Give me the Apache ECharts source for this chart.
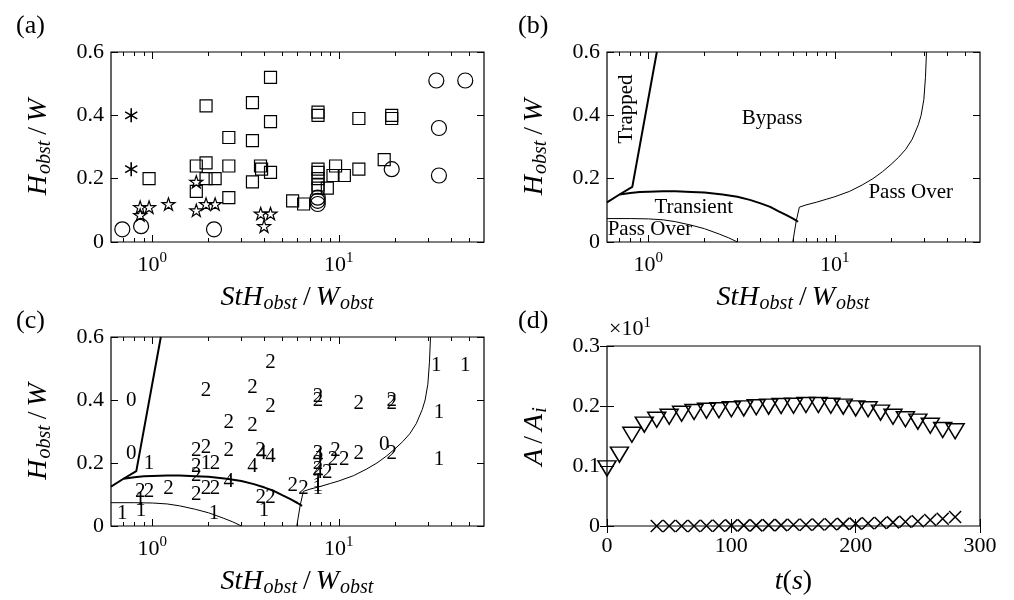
<!DOCTYPE html>
<html lang="en">
<head>
<meta charset="UTF-8" />
<title>obstacle regimes</title>
<script src="https://cdn.jsdelivr.net/npm/echarts@6/dist/echarts.min.js"></script>
<style>
  * { margin: 0; padding: 0; }
  html, body { background: #fff; }
</style>
</head>
<body>
<div id="charts" style="width: 1014px; height: 600px"></div>
<script>
// (a) experiments: x = St*H_obst/W_obst, y = H_obst/W, code = regime number shown in (c)
var circleX = [0.69, 0.87, 2.14, 7.7, 7.7, 7.7, 19.2, 33.3, 47.6, 34.4, 34.4];
var circleY = [0.04, 0.05, 0.04, 0.14, 0.13, 0.12, 0.23, 0.51, 0.51, 0.36, 0.21];
var circleCode = [1, 1, 1, 1, 1, 1, 2, 1, 1, 1, 1];

var squareX = [0.96, 1.94, 1.72, 1.94, 1.94, 2.17, 1.72, 2.57, 2.57, 2.57, 3.44, 3.44, 3.44, 3.8, 3.85,
  4.3, 4.3, 4.3, 5.65, 6.47, 7.73, 7.73, 7.73, 7.73, 7.73, 7.73, 7.73, 8.67, 9.6, 9.3, 10.7, 12.8, 12.8,
  17.5, 19.2, 19.2];
var squareY = [0.20, 0.43, 0.24, 0.25, 0.20, 0.20, 0.16, 0.33, 0.24, 0.14, 0.44, 0.32, 0.19, 0.24, 0.23,
  0.52, 0.38, 0.22, 0.13, 0.12, 0.41, 0.40, 0.23, 0.22, 0.20, 0.18, 0.17, 0.17, 0.24, 0.21, 0.21, 0.39, 0.23,
  0.26, 0.40, 0.39];
var squareCode = [1, 2, 2, 2, 1, 2, 2, 2, 2, 4, 2, 2, 4, 2, 4,
  2, 2, 4, 2, 2, 2, 2, 3, 4, 2, 2, 4, 2, 2, 2, 2, 2, 2,
  0, 2, 2];

var starX = [0.86, 0.86, 0.96, 1.22, 1.72, 1.72, 1.94, 2.17, 3.81, 4.3, 3.97];
var starY = [0.11, 0.085, 0.11, 0.12, 0.19, 0.10, 0.12, 0.12, 0.09, 0.09, 0.05];
var starCode = [2, 1, 2, 2, 2, 2, 2, 2, 2, 2, 1];

var asterX = [0.77, 0.77];
var asterY = [0.40, 0.23];
var asterCode = [0, 0];

// (b)/(c) regime boundaries
var trappedX = [0.6, 0.70, 0.82, 1.11];
var trappedY = [0.125, 0.150, 0.174, 0.6];
var transientX = [0.70, 0.80, 0.90, 1.0, 1.2, 1.4, 1.7, 2.0, 2.5, 3.0, 3.5, 4.0, 4.5, 5.0, 5.5, 6.0, 6.35];
var transientY = [0.150, 0.155, 0.158, 0.159, 0.160, 0.160, 0.158, 0.156, 0.150, 0.143, 0.133, 0.122, 0.111, 0.097, 0.085, 0.073, 0.064];
var lowPassX = [0.6, 0.8, 1.0, 1.2, 1.4, 1.7, 2.0, 2.4, 2.7, 3.0];
var lowPassY = [0.074, 0.074, 0.073, 0.070, 0.064, 0.053, 0.042, 0.025, 0.013, 0.0];
var rightPassX = [5.95, 6.2, 6.45, 7, 8, 9, 10, 12, 14, 16, 18, 20, 22, 24, 26, 28, 29, 30, 30.6, 31];
var rightPassY = [0.0, 0.065, 0.11, 0.117, 0.126, 0.135, 0.143, 0.16, 0.18, 0.20, 0.222, 0.245, 0.268, 0.293, 0.325, 0.37, 0.40, 0.45, 0.52, 0.6];

var regionText = ['Trapped', 'Bypass', 'Transient', 'Pass Over', 'Pass Over'];
var regionX = [0.76, 4.6, 1.75, 25.5, 1.02];
var regionY = [0.42, 0.39, 0.108, 0.157, 0.04];
var regionRot = [90, 0, 0, 0, 0];

// (d) area ratio vs time
var triT = [0, 10, 20, 30, 40, 50, 60, 70, 80, 90, 100, 110, 120, 130, 140, 150, 160, 170, 180, 190, 200,
  210, 220, 230, 240, 250, 260, 270, 280];
var triA = [0.096, 0.119, 0.152, 0.169, 0.177, 0.182, 0.187, 0.190, 0.192, 0.193, 0.1945, 0.196, 0.198, 0.199,
  0.200, 0.2005, 0.2016, 0.2016, 0.2005, 0.199, 0.196, 0.1945, 0.189, 0.182, 0.178, 0.174, 0.167, 0.160, 0.158];
var crossT = [40, 50, 60, 70, 80, 90, 100, 110, 120, 130, 140, 150, 160, 170, 180, 190, 200, 210, 220, 230,
  240, 250, 260, 270, 280];
var crossA = [0, 0, 0, 0, 0.0005, 0.0005, 0.001, 0.001, 0.001, 0.0015, 0.0015, 0.002, 0.002, 0.0025, 0.003,
  0.0035, 0.004, 0.0045, 0.005, 0.006, 0.007, 0.008, 0.010, 0.012, 0.015];

var xMajor = [1, 10];
var xMinor = [0.7, 0.8, 0.9, 2, 3, 4, 5, 6, 7, 8, 9, 20, 30, 40, 50];

var FONT = "Liberation Serif";
var nameRich = {
  i: { fontFamily: FONT, fontStyle: "italic", fontSize: 28, lineHeight: 32, color: "#000" },
  n: { fontFamily: FONT, fontSize: 28, lineHeight: 32, color: "#000", padding: [0, 5, 0, 5] },
  p: { fontFamily: FONT, fontSize: 28, lineHeight: 32, color: "#000" },
  sub: { fontFamily: FONT, fontStyle: "italic", fontSize: 20, lineHeight: 15, verticalAlign: "bottom", color: "#000", padding: [0, 1, 0, 1] },
};
var tickRich = {
  b: { fontFamily: FONT, fontSize: 22, lineHeight: 28, color: "#000" },
  s: { fontFamily: FONT, fontSize: 15, lineHeight: 15, verticalAlign: "top", color: "#000" },
};
var xNameSt = "{i|StH}{sub|obst}{n|/}{i|W}{sub|obst}";
var yNameHW = "{i|H}{sub|obst}{n|/}{i|W}";
var yNameA = "{i|A}{n|/}{i|A}{sub|i}";
var xNameT = "{i|t}{p|(}{i|s}{p|)}";

function pairs(xs, ys) {
  return xs.map(function (x, i) { return [x, ys[i]]; });
}

function logX(gi) {
  var major = { inside: true, length: 7, customValues: xMajor, lineStyle: { color: "#000" } };
  var minor = { inside: true, length: 4, customValues: xMinor, lineStyle: { color: "#000" } };
  var list = [];
  [["bottom", major], ["bottom", minor], ["top", major], ["top", minor]].forEach(function (p, k) {
    list.push({
      type: "log", logBase: 10, gridIndex: gi, min: 0.6, max: 60, position: p[0],
      axisLine: { show: false }, splitLine: { show: false }, axisTick: p[1],
      axisLabel: k === 0 ? {
        customValues: xMajor, margin: 9,
        formatter: function (v) { return "{b|10}{s|" + Math.round(Math.log10(v)) + "}"; },
        rich: tickRich,
      } : { show: false },
      name: k === 0 ? xNameSt : "", nameLocation: "middle", nameGap: 40,
      nameTextStyle: { rich: nameRich },
    });
  });
  return list;
}

function linX(gi) {
  var tick = { inside: true, length: 7, lineStyle: { color: "#000" } };
  return [
    { type: "value", gridIndex: gi, min: 0, max: 300, interval: 100, position: "bottom",
      axisLine: { show: false }, splitLine: { show: false }, axisTick: tick,
      axisLabel: { margin: 9, fontFamily: FONT, fontSize: 22, color: "#000" },
      name: xNameT, nameLocation: "middle", nameGap: 40, nameTextStyle: { rich: nameRich } },
    { type: "value", gridIndex: gi, min: 0, max: 300, interval: 100, position: "top",
      axisLine: { show: false }, splitLine: { show: false }, axisTick: tick, axisLabel: { show: false } },
  ];
}

function linY(gi, max, interval, name) {
  var tick = { inside: true, length: 7, lineStyle: { color: "#000" } };
  return [
    {
      type: "value", gridIndex: gi, min: 0, max: max, interval: interval, position: "left",
      axisLine: { show: false }, splitLine: { show: false }, axisTick: tick,
      axisLabel: {
        margin: 7, fontFamily: FONT, fontSize: 22, color: "#000",
        formatter: function (v) { return v === 0 ? "0" : v.toFixed(1); },
      },
      name: name, nameLocation: "middle", nameGap: 56, nameTextStyle: { rich: nameRich },
    },
    {
      type: "value", gridIndex: gi, min: 0, max: max, interval: interval, position: "right",
      axisLine: { show: false }, splitLine: { show: false }, axisTick: tick, axisLabel: { show: false },
    },
  ];
}

var starPath = "path://M0,-1L0.2245,-0.309L0.951,-0.309L0.363,0.118L0.588,0.809L0,0.382L-0.588,0.809L-0.363,0.118L-0.951,-0.309L-0.2245,-0.309Z";
var asterPath = "path://M0,-1L0,1M-0.866,-0.5L0.866,0.5M-0.866,0.5L0.866,-0.5";
var crossPath = "path://M-1,-1L1,1M-1,1L1,-1";

function hollow(w) {
  return { color: "rgba(0,0,0,0)", borderColor: "#000", borderWidth: w, opacity: 1 };
}

function scatter(xi, yi, data, symbol, size, extra) {
  return Object.assign({
    type: "scatter", xAxisIndex: xi, yAxisIndex: yi, data: data, symbol: symbol,
    symbolSize: size, symbolKeepAspect: true, itemStyle: hollow(1.2), silent: true,
  }, extra || {});
}

function line(xi, yi, xs, ys, w) {
  return {
    type: "line", xAxisIndex: xi, yAxisIndex: yi, data: pairs(xs, ys), symbol: "none",
    lineStyle: { color: "#000", width: w }, silent: true, z: 1,
  };
}

function boundaries(xi, yi) {
  return [
    line(xi, yi, trappedX, trappedY, 2),
    line(xi, yi, transientX, transientY, 2),
    line(xi, yi, lowPassX, lowPassY, 1),
    line(xi, yi, rightPassX, rightPassY, 1),
  ];
}

// all points with their regime code, for (c)
var codeData = [];
[[circleX, circleY, circleCode], [squareX, squareY, squareCode], [starX, starY, starCode], [asterX, asterY, asterCode]]
  .forEach(function (g) {
    g[0].forEach(function (x, i) { codeData.push([x, g[1][i], g[2][i]]); });
  });

var regionData = regionText.map(function (t, i) {
  return { name: t, value: [regionX[i], regionY[i]], label: { rotate: regionRot[i] } };
});

var myEcharts = echarts.init(document.getElementById("charts"));
var options = {
  animation: false,
  backgroundColor: "#fff",
  title: [
    { text: "(a)", left: 11, top: 8 },
    { text: "(b)", left: 513, top: 8 },
    { text: "(c)", left: 11, top: 303 },
    { text: "(d)", left: 513, top: 303 },
  ].map(function (t) {
    t.textStyle = { fontFamily: FONT, fontSize: 26, fontWeight: "normal", color: "#000" };
    return t;
  }),
  grid: [
    { left: 111, top: 52, width: 373, height: 190 },
    { left: 607, top: 52, width: 373, height: 190 },
    { left: 111, top: 337, width: 373, height: 189 },
    { left: 607, top: 346, width: 373, height: 180 },
  ].map(function (g) {
    g.show = true; g.borderColor = "#000"; g.borderWidth = 1.2; g.backgroundColor = "rgba(0,0,0,0)";
    return g;
  }),
  xAxis: [].concat(logX(0), logX(1), logX(2), linX(3)),
  yAxis: [].concat(
    linY(0, 0.6, 0.2, yNameHW),
    linY(1, 0.6, 0.2, yNameHW),
    linY(2, 0.6, 0.2, yNameHW),
    linY(3, 0.3, 0.1, yNameA)
  ),
  series: [].concat(
    [
      scatter(0, 0, pairs(circleX, circleY), "circle", 15),
      scatter(0, 0, pairs(squareX, squareY), "rect", 12),
      scatter(0, 0, pairs(starX, starY), starPath, 13),
      scatter(0, 0, pairs(asterX, asterY), asterPath, 14, { itemStyle: hollow(1.6) }),
    ],
    boundaries(4, 2),
    [
      scatter(4, 2, regionData, "circle", 0, {
        label: { show: true, position: "inside", formatter: "{b}", fontFamily: FONT, fontSize: 21, color: "#000" },
      }),
    ],
    boundaries(8, 4),
    [
      scatter(8, 4, codeData, "circle", 0, {
        label: {
          show: true, position: "inside", fontFamily: FONT, fontSize: 21, color: "#000",
          formatter: function (p) { return String(p.data[2]); },
        },
      }),
      scatter(12, 6, pairs(triT, triA), "triangle", [18, 15], { symbolKeepAspect: false, symbolRotate: 180, itemStyle: hollow(1.5) }),
      scatter(12, 6, pairs(crossT, crossA), crossPath, 12, { itemStyle: hollow(1.5) }),
    ]
  ),
  graphic: [
    {
      type: "text", left: 609, top: 316,
      style: { text: "{m|×10}{s|1}", rich: { m: { fontFamily: FONT, fontSize: 22, lineHeight: 26, fill: "#000" }, s: { fontFamily: FONT, fontSize: 15, lineHeight: 15, verticalAlign: "top", fill: "#000" } } },
    },
  ],
};
myEcharts.setOption(options);
</script>
</body>
</html>
